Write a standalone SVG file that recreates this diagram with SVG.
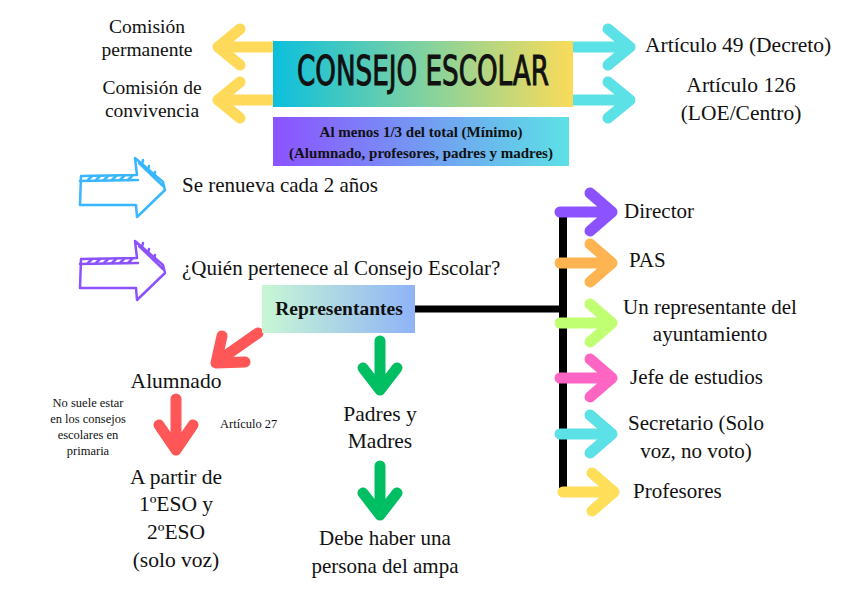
<svg xmlns="http://www.w3.org/2000/svg" width="848" height="600" viewBox="0 0 848 600" font-family="'Liberation Serif','DejaVu Serif',serif">
<defs>
<linearGradient id="gTitle" x1="0" y1="0" x2="1" y2="0">
<stop offset="0" stop-color="#0cbfdd"/><stop offset="0.5" stop-color="#80d2a0"/><stop offset="1" stop-color="#fadb59"/>
</linearGradient>
<linearGradient id="gSub" x1="0" y1="0" x2="1" y2="0">
<stop offset="0" stop-color="#8c52ff"/><stop offset="1" stop-color="#5ce1e6"/>
</linearGradient>
<linearGradient id="gRep" x1="0" y1="0" x2="1" y2="0">
<stop offset="0" stop-color="#c8f7d4"/><stop offset="1" stop-color="#8fb3f7"/>
</linearGradient>
<style>
.tx{font-family:"Liberation Serif","DejaVu Serif",serif;fill:#111;}
.t21{font-size:21px;}
.t22{font-size:21.5px;}
.t20{font-size:19.5px;}
.t12{font-size:12.5px;}
.b{font-weight:bold;}
.mid{text-anchor:middle;}
.arr{fill:none;stroke-width:11;stroke-linecap:round;stroke-linejoin:round;}
.sk{fill:none;stroke-width:2.5;stroke-linejoin:round;stroke-linecap:round;}
</style>
</defs>

<g id="connectors">
  <path class="arr" stroke="#fed95a" stroke-width="13" d="M274 47 H218 M240 29 L218 47 L240 65"/>
  <path class="arr" stroke="#fed95a" stroke-width="13" d="M274 100 H218 M240 82 L218 100 L240 118"/>
  <path class="arr" stroke="#5ce1e6" stroke-width="13" d="M574 47 H630 M608 29 L630 47 L608 65"/>
  <path class="arr" stroke="#5ce1e6" stroke-width="13" d="M574 100 H630 M608 82 L630 100 L608 118"/>
  <path d="M415 309 H563" stroke="#000" stroke-width="7" fill="none"/>
  <path d="M563 210 V493" stroke="#000" stroke-width="8" fill="none"/>
  <path class="arr" stroke="#8c52ff" d="M560 212 H612 M590 193 L612 212 L590 231"/>
  <path class="arr" stroke="#ffb452" d="M560 263 H612 M590 244 L612 263 L590 282"/>
  <path class="arr" stroke="#c1ff72" d="M560 323 H612 M590 304 L612 323 L590 342"/>
  <path class="arr" stroke="#ff66c4" d="M560 378 H612 M590 359 L612 378 L590 397"/>
  <path class="arr" stroke="#5ce1e6" d="M560 434 H612 M590 415 L612 434 L590 453"/>
  <path class="arr" stroke="#ffde59" d="M563 492 H614 M592 473 L614 492 L592 511"/>
  <path class="arr" stroke="#ff5757" stroke-width="12" d="M258 333 L218 361 M222 336 L216 363 L245 362"/>
  <path class="arr" stroke="#ff5757" stroke-width="12" d="M176 399 V450 M159 425 L176 450 L193 425"/>
  <path class="arr" stroke="#00bf63" stroke-width="12" d="M380 341 V390 M363 368 L380 390 L397 368"/>
  <path class="arr" stroke="#00bf63" stroke-width="12" d="M380 466 V515 M363 493 L380 515 L397 493"/>
</g>

<g id="sketch-arrow-blue">
  <path class="sk" stroke="#38b6ff" d="M81 176 L137 175 L135 158 L163 182 L165 190 L137 217 L136 205 L80 205 Z"/>
  <path class="sk" stroke="#38b6ff" stroke-width="2" d="M80 181 L138 180 M139 163 L163 186"/>
  <path class="sk" stroke="#38b6ff" stroke-width="1.5" d="M88 180 l4 -4 M96 180 l4 -4 M104 180 l4 -4 M112 180 l4 -4 M120 180 l4 -4 M128 180 l4 -4 M142 164 l1 -4 M148 170 l1 -4 M154 176 l1 -4"/>
</g>
<g id="sketch-arrow-purple">
  <path class="sk" stroke="#8c52ff" d="M81 259 L137 258 L135 241 L163 265 L165 273 L137 300 L136 288 L80 288 Z"/>
  <path class="sk" stroke="#8c52ff" stroke-width="2" d="M80 264 L138 263 M139 246 L163 269"/>
  <path class="sk" stroke="#8c52ff" stroke-width="1.5" d="M88 263 l4 -4 M96 263 l4 -4 M104 263 l4 -4 M112 263 l4 -4 M120 263 l4 -4 M128 263 l4 -4 M142 247 l1 -4 M148 253 l1 -4 M154 259 l1 -4"/>
</g>

<g id="consejo-escolar">
  <rect x="273" y="41" width="300" height="66" fill="url(#gTitle)"/>
  <text x="423" y="85" text-anchor="middle" font-family="'DejaVu Sans Condensed','DejaVu Sans',sans-serif" font-size="40" fill="#111" stroke="#111" stroke-width="1" textLength="252" lengthAdjust="spacingAndGlyphs">CONSEJO ESCOLAR</text>
</g>

<g id="minimo">
  <rect x="273" y="117" width="296" height="49" fill="url(#gSub)"/>
  <text x="421" y="137" class="tx mid b" font-size="15">Al menos 1/3 del total (Mínimo)</text>
  <text x="421" y="158" class="tx mid b" font-size="15">(Alumnado, profesores, padres y madres)</text>
</g>

<g id="comision-permanente">
  <text x="147" y="33" class="tx mid t20">Comisión</text>
  <text x="147" y="56" class="tx mid t20">permanente</text>
</g>
<g id="comision-convivencia">
  <text x="152" y="94" class="tx mid t20">Comisión de</text>
  <text x="152" y="117" class="tx mid t20">convivencia</text>
</g>
<g id="articulo-49">
  <text x="645" y="52" class="tx t22">Artículo 49 (Decreto)</text>
</g>
<g id="articulo-126">
  <text x="741" y="92" class="tx mid t22">Artículo 126</text>
  <text x="741" y="120" class="tx mid t22">(LOE/Centro)</text>
</g>

<g id="renueva"><text x="182" y="192" class="tx t21">Se renueva cada 2 años</text></g>
<g id="quien"><text x="182" y="275" class="tx t21">¿Quién pertenece al Consejo Escolar?</text></g>

<g id="representantes">
  <rect x="262" y="285" width="153" height="48" fill="url(#gRep)"/>
  <text x="339" y="315" class="tx mid b t20">Representantes</text>
</g>

<g id="director"><text x="624" y="218" class="tx t21">Director</text></g>
<g id="pas"><text x="629" y="267" class="tx t21">PAS</text></g>
<g id="ayuntamiento">
  <text x="710" y="314" class="tx mid t21">Un representante del</text>
  <text x="710" y="341" class="tx mid t21">ayuntamiento</text>
</g>
<g id="jefe"><text x="630" y="384" class="tx t21">Jefe de estudios</text></g>
<g id="secretario">
  <text x="696" y="430" class="tx mid t21">Secretario (Solo</text>
  <text x="696" y="458" class="tx mid t21">voz, no voto)</text>
</g>
<g id="profesores"><text x="633" y="498" class="tx t21">Profesores</text></g>

<g id="alumnado"><text x="176" y="388" class="tx mid t22">Alumnado</text></g>
<g id="nota-primaria">
  <text x="88" y="407" class="tx mid t12">No suele estar</text>
  <text x="88" y="423" class="tx mid t12">en los consejos</text>
  <text x="88" y="439" class="tx mid t12">escolares en</text>
  <text x="88" y="455" class="tx mid t12">primaria</text>
</g>
<g id="articulo-27"><text x="220" y="428" class="tx t12">Artículo 27</text></g>
<g id="a-partir">
  <text x="176" y="484" class="tx mid t22">A partir de</text>
  <text x="176" y="511" class="tx mid t22">1ºESO y</text>
  <text x="176" y="539" class="tx mid t22">2ºESO</text>
  <text x="176" y="567" class="tx mid t22">(solo voz)</text>
</g>
<g id="padres">
  <text x="380" y="421" class="tx mid t22">Padres y</text>
  <text x="380" y="448" class="tx mid t22">Madres</text>
</g>
<g id="ampa">
  <text x="385" y="545" class="tx mid t21">Debe haber una</text>
  <text x="385" y="573" class="tx mid t21">persona del ampa</text>
</g>
</svg>
